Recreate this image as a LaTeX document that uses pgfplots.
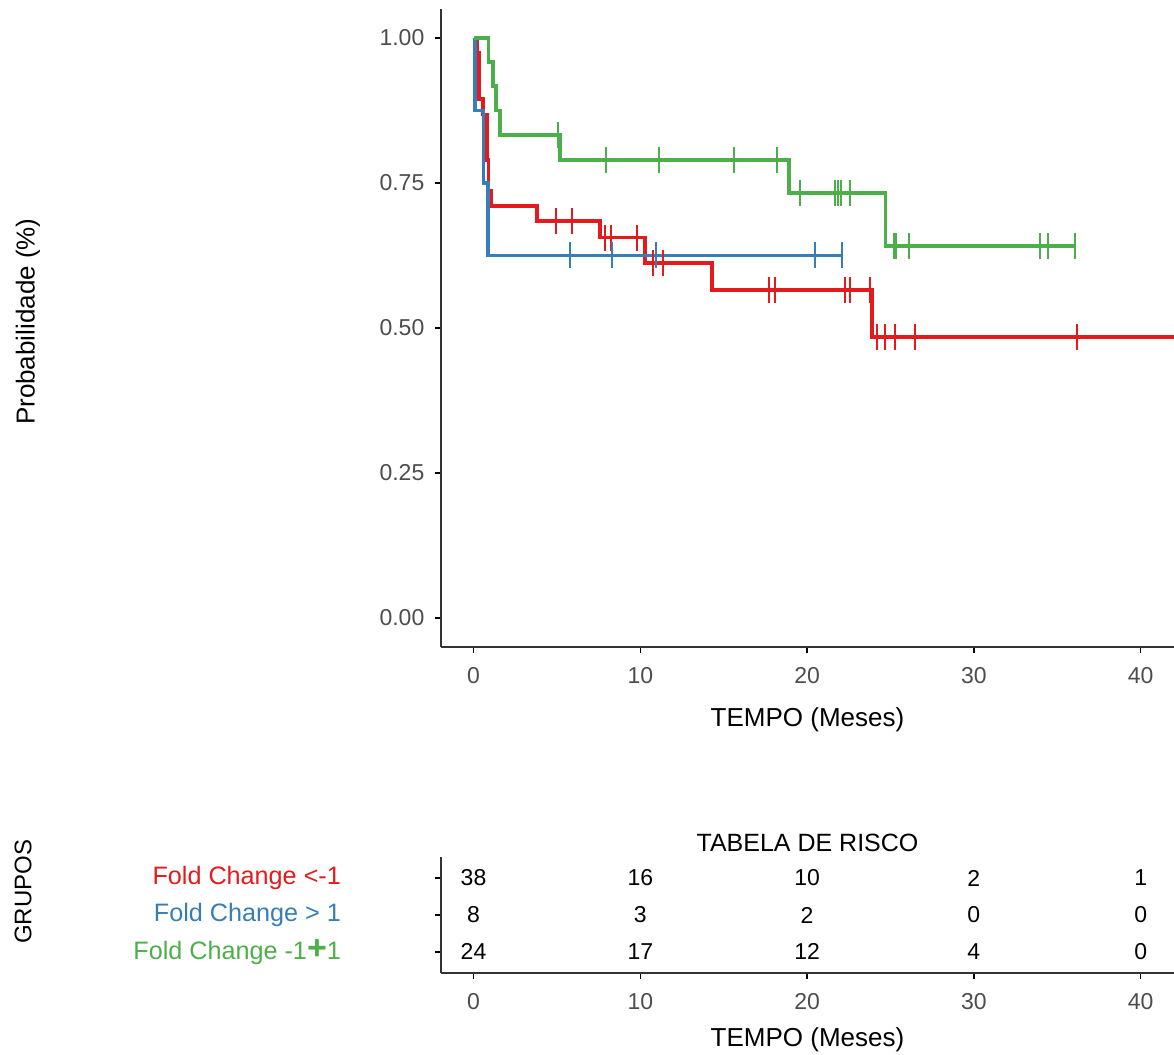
\documentclass[border=0pt]{standalone}
\usepackage{pgfplots}
\pgfplotsset{compat=1.18}
\usepackage{fontspec}
\setmainfont{Liberation Sans}
\definecolor{cred}{HTML}{E41A1C}
\definecolor{cblue}{HTML}{377EB8}
\definecolor{cgreen}{HTML}{4DAF4A}
\definecolor{tickgray}{HTML}{4D4D4D}
\definecolor{axcol}{HTML}{333333}
\pgfplotsset{
  kmstyle/.style={
    scale only axis, width=366.5pt,
    xmin=-1.95, xmax=42,
    axis x line*=bottom, axis y line*=left,
    axis line style={-, line width=0.75pt, color=axcol},
    tick align=outside, major tick length=3pt,
    tick style={line width=0.75pt, color=black},
    xtick={0,10,20,30,40},
    xticklabels={0,10,20,30,40},
    tick label style={font=\fontsize{11.5}{13}\selectfont, color=tickgray},
    xticklabel style={yshift=-3.5pt},
  },
  cens/.style={only marks, mark=|, mark size=6.5pt, mark options={line width=1pt}},
  km/.style={const plot, line width=1.9pt},
}
\begin{document}
\begin{tikzpicture}
\useasboundingbox (0,0) rectangle (587pt,527.5pt);
% ---------------- main survival plot ----------------
\begin{axis}[kmstyle,
  at={(220.5pt,204pt)}, anchor=south west, height=319pt,
  ymin=-0.05, ymax=1.05,
  ytick={0,0.25,0.5,0.75,1},
  yticklabels={0.00,0.25,0.50,0.75,1.00},
  yticklabel style={xshift=-1.8pt},
  xlabel={TEMPO (Meses)},
  xlabel style={at={(rel axis cs:0.5,-0.1144)}, anchor=center, font=\fontsize{13}{15}\selectfont, color=black},
  ylabel={Probabilidade (\%)},
  ylabel style={at={(rel axis cs:-0.5634,0.51)}, anchor=center, font=\fontsize{13}{15}\selectfont, color=black},
]
% Fold Change < -1
\addplot[km, cred] coordinates {
 (0,1) (0.2,0.974) (0.35,0.895) (0.55,0.868) (0.8,0.789) (0.9,0.737) (1.05,0.711)
 (3.8,0.684) (7.6,0.656) (10.3,0.612) (14.3,0.566) (23.9,0.485) (42,0.485)};
\addplot[cens, cred] coordinates {
 (4.95,0.684) (5.89,0.684) (7.89,0.656) (8.23,0.656) (9.83,0.656)
 (10.75,0.612) (11.39,0.612) (17.69,0.566) (18.09,0.566) (22.29,0.566) (22.55,0.566) (23.79,0.566)
 (24.19,0.485) (24.65,0.485) (25.29,0.485) (26.49,0.485) (36.19,0.485)};
% Fold Change > 1
\addplot[km, cblue] coordinates {
 (0,1) (0.1,0.875) (0.6,0.75) (0.85,0.625) (22.1,0.625)};
\addplot[cens, cblue] coordinates {
 (5.79,0.625) (8.29,0.625) (10.95,0.625) (20.49,0.625) (22.09,0.625)};
% Fold Change -1 to 1
\addplot[km, cgreen] coordinates {
 (0,1) (0.9,0.958) (1.15,0.917) (1.35,0.875) (1.6,0.833) (5.2,0.789)
 (18.9,0.733) (24.7,0.641) (36.1,0.641)};
\addplot[cens, cgreen] coordinates {
 (5.05,0.833) (7.95,0.789) (11.15,0.789) (15.59,0.789) (18.19,0.789)
 (19.59,0.733) (21.69,0.733) (21.85,0.733) (22.03,0.733) (22.59,0.733)
 (25.19,0.641) (25.33,0.641) (26.09,0.641) (33.99,0.641) (34.42,0.641) (36.09,0.641)};
\end{axis}
% ---------------- risk table ----------------
\begin{axis}[kmstyle,
  at={(220.5pt,41pt)}, anchor=south west, height=58pt,
  ymin=0.43, ymax=3.57,
  ytick={1,2,3},
  yticklabels={{\color{cgreen}Fold Change -1{\fontsize{17}{17}\selectfont\bfseries +}1},
               {\color{cblue}Fold Change > 1},
               {\color{cred}Fold Change <-1}},
  yticklabel style={font=\fontsize{12.6}{14}\selectfont, xshift=-43.5pt},
  title={TABELA DE RISCO},
  title style={at={(rel axis cs:0.5,1.121)}, anchor=center, yshift=-6pt, font=\fontsize{12.5}{15}\selectfont},
  xlabel={TEMPO (Meses)},
  xlabel style={at={(rel axis cs:0.5,-0.578)}, anchor=center, font=\fontsize{13}{15}\selectfont, color=black},
  ylabel={GRUPOS},
  ylabel style={at={(rel axis cs:-0.570,0.70)}, anchor=center, font=\fontsize{12}{14}\selectfont, color=black},
]
\addplot[draw=none, nodes near coords, point meta=explicit symbolic,
  nodes near coords align={center},
  every node near coord/.append style={font=\fontsize{11.5}{13}\selectfont, color=black, anchor=center}]
 coordinates {
 (0,3)[38] (10,3)[16] (20,3)[10] (30,3)[2] (40,3)[1]
 (0,2)[8] (10,2)[3] (20,2)[2] (30,2)[0] (40,2)[0]
 (0,1)[24] (10,1)[17] (20,1)[12] (30,1)[4] (40,1)[0]};
\end{axis}
\end{tikzpicture}
\end{document}
